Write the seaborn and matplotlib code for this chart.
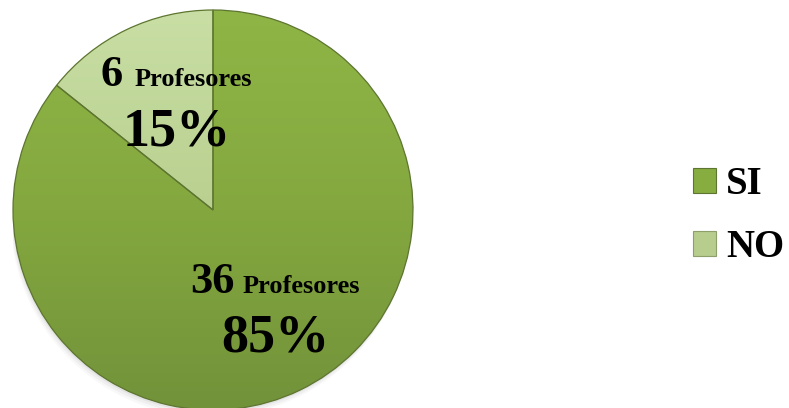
import numpy as np
import matplotlib
matplotlib.use("Agg")
import matplotlib.pyplot as plt
import seaborn as sns
from matplotlib.patches import Patch, Circle
from matplotlib.colors import LinearSegmentedColormap

# ---- data ----
categories = ["SI", "NO"]
counts = [36, 6]
percents = ["85%", "15%"]
unit_label = "Profesores"

sns.set_theme(style="white")
plt.rcParams["font.family"] = ["Liberation Serif", "DejaVu Serif"]

W, H = 789, 408
fig = plt.figure(figsize=(W / 100, H / 100), dpi=100)
fig.patch.set_facecolor("white")

cx, cy, r = 213, 210, 200  # pixel center and radius
ax = fig.add_axes([(cx - r) / W, 1 - (cy + r) / H, 2 * r / W, 2 * r / H])
ax.set_xlim(-1, 1)
ax.set_ylim(-1, 1)
ax.set_aspect("equal")
ax.axis("off")

base_colors = ["#86ab40", "#c3d69b"]
edge = "#5d7530"
wedges, _ = ax.pie(counts, startangle=90, counterclock=False, colors=base_colors,
                   radius=1.0, center=(0, 0),
                   wedgeprops=dict(edgecolor=edge, linewidth=0.9))
ax.set_xlim(-1, 1)
ax.set_ylim(-1, 1)

# soft shadow
for k, a in enumerate([0.10, 0.07, 0.05]):
    ax.add_patch(Circle((-0.004 * (k + 1), -0.012 * (k + 1)), 1.0, facecolor="gray",
                        edgecolor="none", alpha=a, zorder=0))

# gradient overlays clipped to each wedge
grad_maps = [
    LinearSegmentedColormap.from_list("si", ["#72923a", "#84a83f", "#8fb546"]),
    LinearSegmentedColormap.from_list("no", ["#a3bb7c", "#b9d090", "#c8dea4"]),
]
yy = np.linspace(0, 1, 256).reshape(-1, 1)
for w, cmap in zip(wedges, grad_maps):
    im = ax.imshow(yy, extent=[-1, 1, -1, 1], origin="lower", cmap=cmap,
                   vmin=0, vmax=1, zorder=w.get_zorder() + 0.1, interpolation="bilinear")
    im.set_clip_path(w)
    w.set_zorder(w.get_zorder() + 0.2)
    w.set_facecolor("none")

def px2d(px, py):
    return (px - cx) / r, (cy - py) / r

tkw = dict(color="black", fontweight="bold", va="baseline", zorder=10)
# NO labels
x, y = px2d(100, 86)
ax.text(x, y, str(counts[1]), ha="left", fontsize=32, **tkw)
x, y = px2d(135, 86)
ax.text(x, y, unit_label, ha="left", fontsize=19, **tkw)
x, y = px2d(177, 146)
ax.text(x, y, percents[1], ha="center", fontsize=39, **tkw)
# SI labels
x, y = px2d(190, 293)
ax.text(x, y, str(counts[0]), ha="left", fontsize=32, **tkw)
x, y = px2d(243, 293)
ax.text(x, y, unit_label, ha="left", fontsize=19, **tkw)
x, y = px2d(275, 352)
ax.text(x, y, percents[0], ha="center", fontsize=39, **tkw)

handles = [Patch(facecolor="#87ad40", edgecolor=edge, linewidth=0.8),
           Patch(facecolor="#b6cd8e", edgecolor="#8da06a", linewidth=0.8)]
leg = fig.legend(handles, categories, loc="upper left",
                 bbox_to_anchor=(693 / W, 1 - 166 / H), bbox_transform=fig.transFigure,
                 frameon=False, borderpad=0, borderaxespad=0,
                 handlelength=0.6, handleheight=0.6, handletextpad=0.25,
                 labelspacing=0.68, labelcolor="black",
                 prop=dict(family=["Liberation Serif"], weight="bold", size=28))

fig.savefig("out.png", dpi=100, facecolor="white")
